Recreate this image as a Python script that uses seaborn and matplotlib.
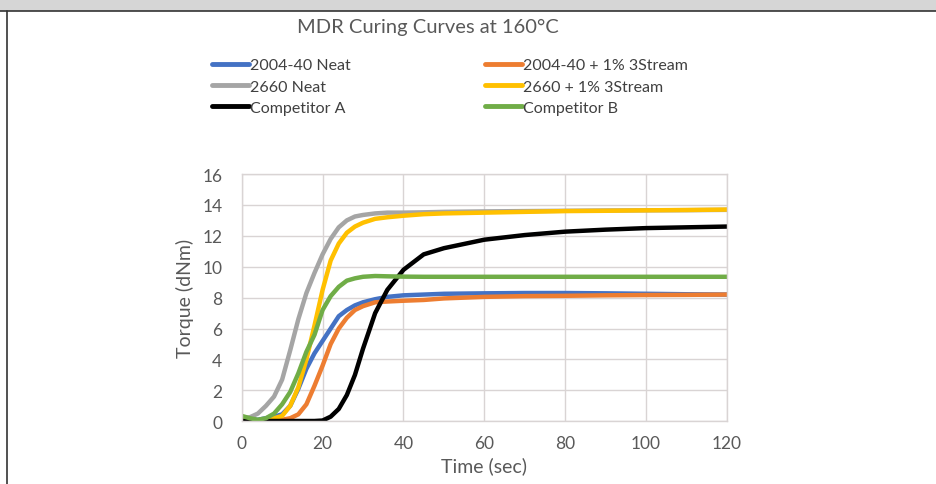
import pandas as pd
import matplotlib.pyplot as plt
import seaborn as sns
from matplotlib.patches import Rectangle
from matplotlib.lines import Line2D

# sample times (sec)
time_sec = [0, 2, 4, 6, 8, 10, 12, 14, 16, 18, 20, 22, 24, 26, 28, 30, 33, 36,
            40, 45, 50, 60, 70, 80, 90, 100, 110, 120]

neat_2004 = [0.2, 0.1, 0.1, 0.2, 0.3, 0.45, 1.0, 2.1, 3.4, 4.4, 5.2, 6.0, 6.8, 7.2,
             7.5, 7.7, 7.9, 8.05, 8.15, 8.2, 8.25, 8.28, 8.3, 8.3, 8.28, 8.25, 8.22, 8.2]
stream_2004 = [0.1, 0.05, 0.05, 0.05, 0.05, 0.1, 0.2, 0.45, 1.1, 2.3, 3.6, 5.0, 6.0, 6.7,
               7.2, 7.45, 7.7, 7.75, 7.8, 7.85, 7.95, 8.05, 8.1, 8.12, 8.15, 8.17, 8.18, 8.2]
neat_2660 = [0.2, 0.26, 0.5, 1.0, 1.6, 2.7, 4.6, 6.6, 8.3, 9.6, 10.8, 11.8, 12.55, 13.0,
             13.25, 13.35, 13.45, 13.5, 13.5, 13.52, 13.55, 13.58, 13.6, 13.62, 13.64,
             13.65, 13.66, 13.68]
stream_2660 = [0.1, 0.05, 0.05, 0.1, 0.2, 0.35, 1.0, 2.2, 4.0, 6.2, 8.5, 10.4, 11.5, 12.2,
               12.6, 12.85, 13.1, 13.2, 13.3, 13.4, 13.45, 13.5, 13.55, 13.6, 13.62,
               13.65, 13.67, 13.7]
comp_a = [0.05, 0.02, 0.02, 0.02, 0.02, 0.02, 0.02, 0.02, 0.02, 0.02, 0.05, 0.3, 0.8, 1.7,
          3.0, 4.7, 7.0, 8.5, 9.8, 10.8, 11.2, 11.75, 12.05, 12.27, 12.4, 12.5, 12.55, 12.6]
comp_b = [0.35, 0.2, 0.1, 0.2, 0.5, 1.1, 1.9, 3.1, 4.5, 5.6, 7.2, 8.1, 8.7, 9.1, 9.25,
          9.35, 9.4, 9.38, 9.36, 9.35, 9.35, 9.35, 9.35, 9.35, 9.35, 9.35, 9.35, 9.35]

series_names = ["2004-40 Neat", "2004-40 + 1% 3Stream", "2660 Neat",
                "2660 + 1% 3Stream", "Competitor A", "Competitor B"]
series_values = [neat_2004, stream_2004, neat_2660, stream_2660, comp_a, comp_b]
colors = ["#4472C4", "#ED7D31", "#A5A5A5", "#FFC000", "#000000", "#70AD47"]

rows = []
for name, vals in zip(series_names, series_values):
    for t, v in zip(time_sec, vals):
        rows.append({"Time": t, "Torque": v, "Series": name})
df = pd.DataFrame(rows)

sns.set_theme(style="white")
plt.rcParams["font.family"] = ["Lato", "DejaVu Sans"]

fig = plt.figure(figsize=(9.37, 4.85), dpi=100)
ax = fig.add_axes([241.7 / 937, 1 - 422.3 / 485, (727 - 241.7) / 937, (422.3 - 175) / 485])

sns.lineplot(data=df, x="Time", y="Torque", hue="Series", hue_order=series_names,
             palette=colors, linewidth=3.2, ax=ax, legend=False)

ax.set_xlim(0, 120)
ax.set_ylim(0, 16)
ax.set_xticks(range(0, 121, 20))
ax.set_yticks(range(0, 17, 2))
ax.grid(True, color="#D9D4D4", linewidth=1.0)
ax.set_axisbelow(True)
for s in ax.spines.values():
    s.set_color("#D9D4D4")
    s.set_linewidth(1.0)
ax.tick_params(axis="y", colors="#595959", labelsize=12.5, length=0, pad=14)
ax.tick_params(axis="x", colors="#595959", labelsize=12.5, length=0, pad=10)
ax.set_xlabel("Time (sec)", fontsize=14, color="#595959", labelpad=4)
ax.set_ylabel("Torque (dNm)", fontsize=14, color="#595959", labelpad=6)

fig.text(428 / 937, 1 - 27 / 485, "MDR Curing Curves at 160\u00b0C", ha="center",
         va="center", fontsize=14.5, color="#595959")

# legend in two columns, placed like the Excel legend
def make_handles(idx):
    return [Line2D([0], [0], color=colors[i], linewidth=3.5) for i in idx]

for idx, x0 in [([0, 2, 4], 212), ([1, 3, 5], 485)]:
    fig.legend(make_handles(idx), [series_names[i] for i in idx],
               loc="upper left", bbox_to_anchor=(x0 / 937, 1 - 59 / 485),
               frameon=False, fontsize=11.5, handlelength=2.3, handletextpad=0.05,
               labelspacing=0.45, borderpad=0, borderaxespad=0, labelcolor="#404040")

# page frame around the figure
fig.patches.append(Rectangle((0, 1 - 12 / 485), 1, 12 / 485, transform=fig.transFigure,
                             facecolor="#D6D6D6", edgecolor="none"))
fig.lines.append(Line2D([0, 1], [1 - 12 / 485] * 2, transform=fig.transFigure,
                        color="#333333", linewidth=1.2))
fig.lines.append(Line2D([7 / 937] * 2, [0, 1 - 12 / 485], transform=fig.transFigure,
                        color="#333333", linewidth=1.2))

fig.savefig("out.png", dpi=100)
